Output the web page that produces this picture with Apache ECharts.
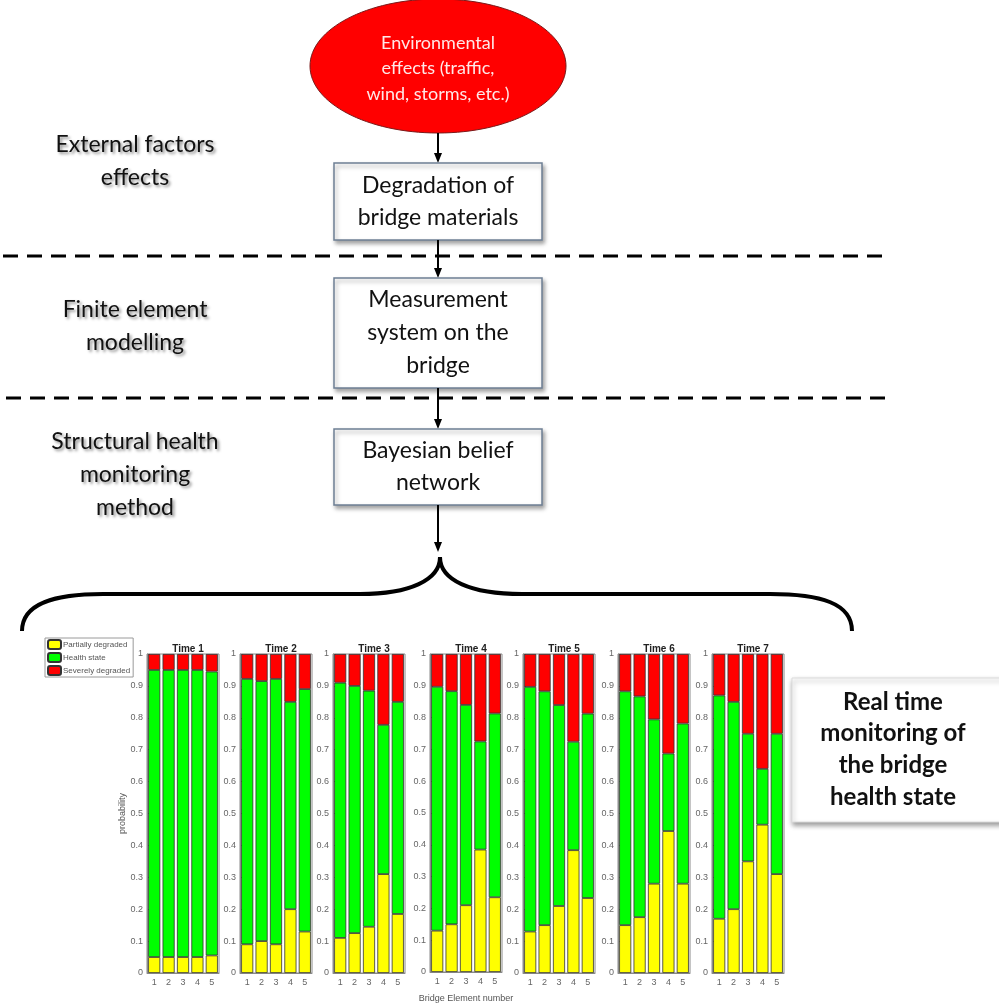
<!DOCTYPE html>
<html><head><meta charset="utf-8">
<script src="https://cdn.jsdelivr.net/npm/echarts@6/dist/echarts.min.js"></script>
<style>html,body{margin:0;padding:0;background:#fff}#c{width:999px;height:1004px}</style>
</head><body><div id="c"></div>
<script>
// ---- data ----
const categories = ['1','2','3','4','5'];
const timeLabels = ['Time 1','Time 2','Time 3','Time 4','Time 5','Time 6','Time 7'];
const seriesNames = ['Partially degraded','Health state','Severely degraded'];
const partial1 = [0.05,0.05,0.05,0.05,0.055];
const health1  = [0.90,0.90,0.90,0.90,0.89];
const severe1  = [0.05,0.05,0.05,0.05,0.055];
const partial2 = [0.09,0.10,0.09,0.20,0.13];
const health2  = [0.832,0.815,0.832,0.65,0.76];
const severe2  = [0.078,0.085,0.078,0.15,0.11];
const partial3 = [0.11,0.125,0.145,0.31,0.185];
const health3  = [0.80,0.775,0.74,0.468,0.665];
const severe3  = [0.09,0.10,0.115,0.222,0.15];
const partial4 = [0.13,0.15,0.21,0.385,0.235];
const health4  = [0.767,0.733,0.63,0.34,0.578];
const severe4  = [0.103,0.117,0.16,0.275,0.187];
const partial5 = [0.13,0.15,0.21,0.385,0.235];
const health5  = [0.767,0.733,0.63,0.34,0.578];
const severe5  = [0.103,0.117,0.16,0.275,0.187];
const partial6 = [0.15,0.175,0.28,0.445,0.28];
const health6  = [0.733,0.692,0.515,0.243,0.502];
const severe6  = [0.117,0.133,0.205,0.312,0.218];
const partial7 = [0.17,0.20,0.35,0.465,0.31];
const health7  = [0.70,0.65,0.40,0.175,0.44];
const severe7  = [0.13,0.15,0.25,0.36,0.25];
const yTicks = [0,0.1,0.2,0.3,0.4,0.5,0.6,0.7,0.8,0.9,1];

const partialAll = [partial1,partial2,partial3,partial4,partial5,partial6,partial7];
const healthAll  = [health1,health2,health3,health4,health5,health6,health7];
const severeAll  = [severe1,severe2,severe3,severe4,severe5,severe6,severe7];

// ---- layout ----
const gridLefts = [147,240,333,430,523,618,712];
const gridW = 72, gridTop = 654, gridBottom = 31;
const colors = ['#ffff00','#00ff00','#ff0000'];
const FONT = 'Lato, "Open Sans", sans-serif';

const grids = [], xAxes = [], yAxes = [], series = [], titles = [];
gridLefts.forEach((l,i)=>{
  grids.push({left:l, top:gridTop, width:gridW, bottom:gridBottom, show:true, borderColor:'#8a8a8a', borderWidth:1, backgroundColor:'#fff'});
  xAxes.push({type:'category', gridIndex:i, data:categories,
    axisLine:{lineStyle:{color:'#8a8a8a'}}, axisTick:{inside:true,length:3,alignWithLabel:true,lineStyle:{color:'#8a8a8a'}},
    axisLabel:{fontSize:9,color:'#666',margin:5,fontFamily:'Arial'},
    name: i===3 ? 'Bridge Element number' : '', nameLocation:'middle', nameGap:22,
    nameTextStyle:{fontSize:9,color:'#555',fontFamily:'Arial'}});
  yAxes.push({type:'value', gridIndex:i, min:0, max:1, interval:0.1,
    axisLine:{show:true,lineStyle:{color:'#8a8a8a'}}, axisTick:{show:true,inside:true,length:3,lineStyle:{color:'#8a8a8a'}},
    splitLine:{show:false},
    axisLabel:{fontSize:9,color:'#666',margin:4,fontFamily:'Arial',
      formatter:v=>{const t=yTicks.find(k=>Math.abs(k-v)<1e-6);return t===undefined?'':String(t);}},
    name: i===0 ? 'probability' : '', nameLocation:'middle', nameGap:20, nameRotate:90,
    nameTextStyle:{fontSize:9,color:'#555',fontFamily:'Arial'}});
  titles.push({text:timeLabels[i], left:l+gridW/2, top:639, textAlign:'center',
    textStyle:{fontSize:10,fontWeight:'bold',color:'#222',fontFamily:'Arial'}});
  [partialAll[i],healthAll[i],severeAll[i]].forEach((d,k)=>{
    series.push({type:'bar', name:seriesNames[k], xAxisIndex:i, yAxisIndex:i, stack:'t'+i,
      data:d, barCategoryGap:'16%', animation:false,
      itemStyle:{color:colors[k], borderColor:'#333', borderWidth:0.8}});
  });
});

// ---- flowchart graphics ----
const cx = 438;
function arrow(y1,y2){
  return [
    {type:'line', shape:{x1:cx,y1:y1,x2:cx,y2:y2-8}, style:{stroke:'#000',lineWidth:2}},
    {type:'polygon', shape:{points:[[cx-4,y2-10],[cx+4,y2-10],[cx,y2]]}, style:{fill:'#000'}}
  ];
}
function box(x,y,w,h,lines,fs,lh,bold){
  const els = [{type:'rect', shape:{x:x,y:y,width:w,height:h}, style:{fill:'#fff',stroke:'#6d7f94',lineWidth:1.5,
      shadowBlur:4,shadowOffsetX:2,shadowOffsetY:3,shadowColor:'rgba(0,0,0,0.35)'}}];
  const cy0 = y + h/2 - (lines.length-1)*lh/2;
  lines.forEach((t,j)=>els.push({type:'text', style:{text:t, x:x+w/2, y:cy0+j*lh, align:'center', verticalAlign:'middle',
      font:(bold?'bold ':'')+fs+'px '+FONT, fill:'#111'}}));
  return els;
}
function label(x,y,lines,fs,lh){
  return lines.map((t,j)=>({type:'text', style:{text:t,x:x,y:y+j*lh,align:'center',verticalAlign:'middle',
    font:fs+'px '+FONT, fill:'#111',
    textShadowColor:'rgba(0,0,0,0.45)', textShadowBlur:3, textShadowOffsetX:2, textShadowOffsetY:2,
    shadowColor:'rgba(0,0,0,0.45)', shadowBlur:3, shadowOffsetX:2, shadowOffsetY:2}}));
}
const graphics = [];
// ellipse
graphics.push({type:'ellipse', shape:{cx:cx,cy:66,rx:128,ry:67}, style:{fill:'#ff0000',stroke:'#7a1a1a',lineWidth:1}});
['Environmental','effects (traffic,','wind, storms, etc.)'].forEach((t,j)=>graphics.push({type:'text',
  style:{text:t,x:cx,y:43+j*25.5,align:'center',verticalAlign:'middle',font:'18px '+FONT,fill:'#ffe8e8'}}));
graphics.push(...arrow(133,163));
graphics.push(...box(334,163,208,77,['Degradation of','bridge materials'],23,32,false));
graphics.push(...arrow(240,278));
graphics.push(...box(334,278,208,110,['Measurement','system on the','bridge'],23,33,false));
graphics.push(...arrow(388,429));
graphics.push(...box(334,429,208,76,['Bayesian belief','network'],23,32,false));
graphics.push(...arrow(505,552));
// dashed separators
graphics.push({type:'line', shape:{x1:3,y1:256,x2:885,y2:256}, style:{stroke:'#000',lineWidth:3,lineDash:[15,9]}});
graphics.push({type:'line', shape:{x1:6,y1:398,x2:890,y2:398}, style:{stroke:'#000',lineWidth:3,lineDash:[15,9]}});
// left labels
graphics.push(...label(135,145,['External factors','effects'],23,33));
graphics.push(...label(135,310,['Finite element','modelling'],23,33));
graphics.push(...label(135,442,['Structural health','monitoring','method'],23,33));
// bracket
const bs = {stroke:'#000',lineWidth:4,fill:null};
graphics.push({type:'bezierCurve', shape:{x1:22,y1:631,cpx1:22,cpy1:603,cpx2:55,cpy2:594,x2:103,y2:594}, style:bs});
graphics.push({type:'line', shape:{x1:103,y1:594,x2:360,y2:594}, style:bs});
graphics.push({type:'bezierCurve', shape:{x1:360,y1:594,cpx1:410,cpy1:594,cpx2:440,cpy2:580,x2:440,y2:557}, style:bs});
graphics.push({type:'bezierCurve', shape:{x1:440,y1:557,cpx1:440,cpy1:580,cpx2:470,cpy2:594,x2:522,y2:594}, style:bs});
graphics.push({type:'line', shape:{x1:522,y1:594,x2:770,y2:594}, style:bs});
graphics.push({type:'bezierCurve', shape:{x1:770,y1:594,cpx1:820,cpy1:594,cpx2:852,cpy2:603,x2:852,y2:631}, style:bs});
// real-time box
graphics.push({type:'rect', shape:{x:792,y:678,width:215,height:144}, style:{fill:'#fff',stroke:'#dcdcdc',lineWidth:1,
  shadowBlur:5,shadowOffsetX:1,shadowOffsetY:3,shadowColor:'rgba(0,0,0,0.4)'}});
['Real time','monitoring of','the bridge','health state'].forEach((t,j)=>graphics.push({type:'text',
  style:{text:t,x:893,y:702+j*31.7,align:'center',verticalAlign:'middle',font:'bold 24px '+FONT,fill:'#111'}}));

const chart = echarts.init(document.getElementById('c'), null, {renderer:'canvas'});
chart.setOption({
  animation:false,
  backgroundColor:'#fff',
  title: titles,
  legend:{data:seriesNames, orient:'vertical', left:45, top:638, itemWidth:13, itemHeight:9, itemGap:2,
    padding:[1,3,1,2], borderColor:'#9a9a9a', borderWidth:1, backgroundColor:'#fff',
    textStyle:{fontSize:8,color:'#555',fontFamily:'Arial',padding:[0,0,0,-3]}, selectedMode:false},
  grid: grids, xAxis: xAxes, yAxis: yAxes, series: series,
  graphic: graphics
});
</script></body></html>
